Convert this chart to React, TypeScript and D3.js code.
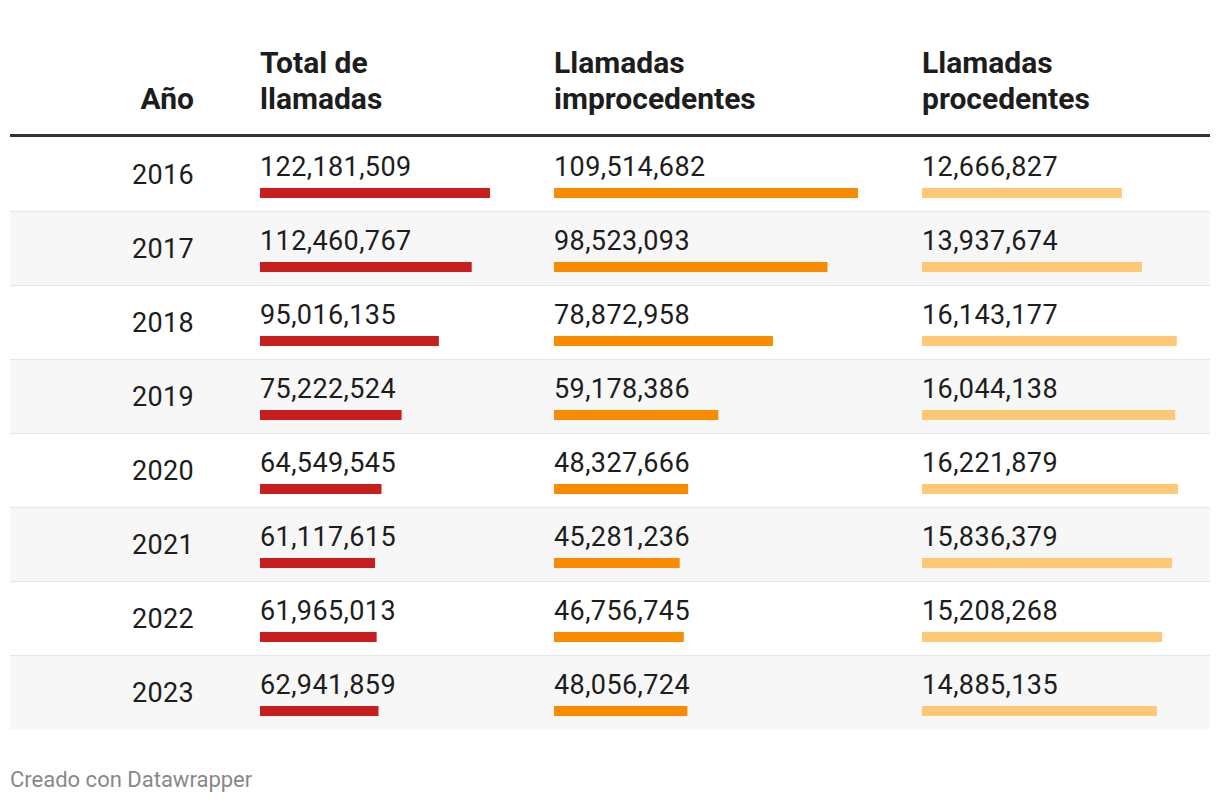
import React from "react";
import * as d3 from "d3";

const years = ["2016", "2017", "2018", "2019", "2020", "2021", "2022", "2023"];
const totalCalls = [122181509, 112460767, 95016135, 75222524, 64549545, 61117615, 61965013, 62941859];
const improperCalls = [109514682, 98523093, 78872958, 59178386, 48327666, 45281236, 46756745, 48056724];
const properCalls = [12666827, 13937674, 16143177, 16044138, 16221879, 15836379, 15208268, 14885135];
const headers = [["Año"], ["Total de", "llamadas"], ["Llamadas", "improcedentes"], ["Llamadas", "procedentes"]];
const footer = "Creado con Datawrapper";

const W = 1220;
const H = 804;
const FONT = "Roboto, 'Noto Sans', sans-serif";

export default function App() {
  const left = 10;
  const right = 1210;
  const headerLineY = 135.5;
  const rowTop = 137;
  const rowH = 74;

  const y = d3.scaleBand<string>().domain(years).range([rowTop, rowTop + rowH * years.length]).padding(0);

  const cols = [
    { x: 260, maxW: 230, data: totalCalls, color: "#c71e1e" },
    { x: 554, maxW: 304, data: improperCalls, color: "#f98b00" },
    { x: 922, maxW: 256, data: properCalls, color: "#fec877" },
  ].map((c) => ({
    ...c,
    scale: d3.scaleLinear().domain([0, d3.max(c.data) as number]).range([0, c.maxW]),
  }));

  const fmt = d3.format(",");
  const yearRight = 194;

  return (
    <svg
      width={W}
      height={H}
      style={{ position: "absolute", left: 0, top: 0, background: "#fff" }}
      fontFamily={FONT}
    >
      {/* header */}
      <text x={yearRight} y={109} textAnchor="end" fontSize={30} fontWeight={700} fill="#1d1d1d">
        {headers[0][0]}
      </text>
      {cols.map((c, i) =>
        headers[i + 1].map((line, j) => (
          <text key={`h${i}${j}`} x={c.x} y={73 + j * 36} fontSize={30} fontWeight={700} fill="#1d1d1d">
            {line}
          </text>
        ))
      )}
      {/* rows */}
      {years.map((yr, r) => {
        const top = y(yr) as number;
        return (
          <g key={yr}>
            {r % 2 === 1 && <rect x={left} y={top} width={right - left} height={y.bandwidth()} fill="#f7f7f7" />}
            {r > 0 && <line x1={left} x2={right} y1={top + 0.5} y2={top + 0.5} stroke="#e6e6e6" strokeWidth={1} />}
            <text x={yearRight} y={top + 47} textAnchor="end" fontSize={27} letterSpacing={0.3} fill="#1d1d1d">
              {yr}
            </text>
            {cols.map((c, ci) => (
              <g key={ci}>
                <text x={c.x} y={top + 39} fontSize={27} letterSpacing={0.4} fill="#1d1d1d">
                  {fmt(c.data[r])}
                </text>
                <rect x={c.x} y={top + 51} width={c.scale(c.data[r])} height={10} fill={c.color} />
              </g>
            ))}
          </g>
        );
      })}
      <line x1={left} x2={right} y1={headerLineY} y2={headerLineY} stroke="#333333" strokeWidth={3} />
      <text x={left} y={787} fontSize={22} fill="#888888">
        {footer}
      </text>
    </svg>
  );
}
